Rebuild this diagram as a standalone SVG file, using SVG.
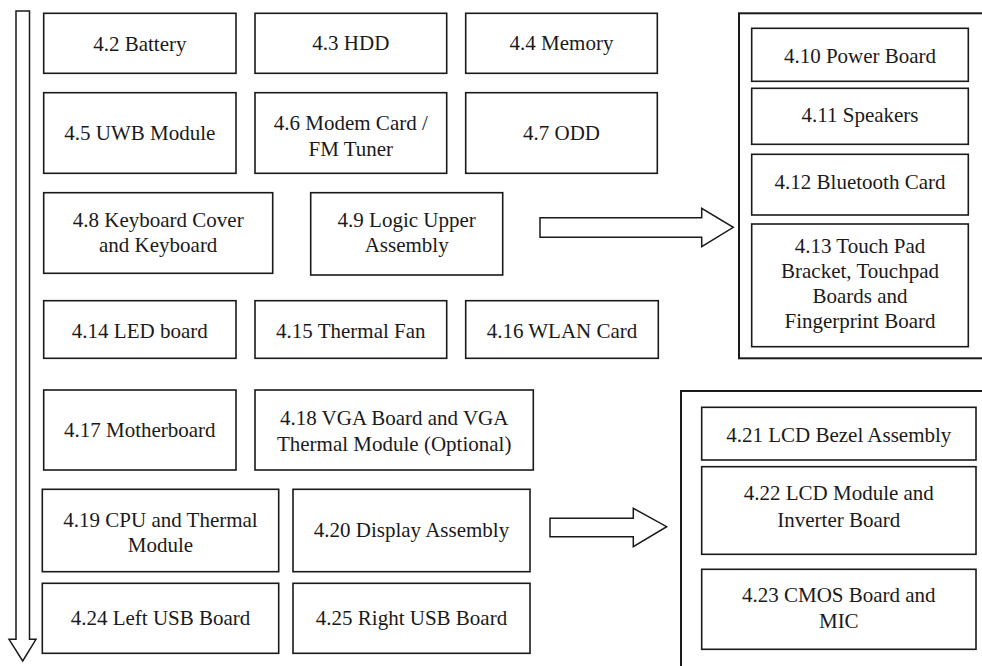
<svg xmlns="http://www.w3.org/2000/svg" width="982" height="666" viewBox="0 0 982 666">
<style>
.b{fill:#fff;stroke:#1a1a1a;stroke-width:1.6}
.o{fill:none;stroke:#1a1a1a;stroke-width:2}
.a{fill:#fff;stroke:#1a1a1a;stroke-width:1.5;stroke-linejoin:miter}
.t text{font-size:21px;fill:#1a1a1a;text-anchor:middle}
</style>
<rect width="982" height="666" fill="#fff"/>
<g id="containers">
<rect id="group-upper" class="o" x="739" y="13.3" width="270" height="345"/>
<rect id="group-display" class="o" x="681" y="391" width="330" height="300"/>
</g>
<g id="connectors">
<path class="a" d="M16,11 H29.5 V639.3 H36 L22.7,661 L9,639.3 H16 Z"/>
<path class="a" d="M540,217.7 H701.7 V208.3 L733.3,227.3 L701.7,246.7 V237.3 H540 Z"/>
<path class="a" d="M550,518.3 H633.3 V508.3 L666.7,526.7 L633.3,546.7 V536.7 H550 Z"/>
</g>
<g class="t" font-family="'Liberation Serif', 'Times New Roman', serif">
<g id="n42"><rect class="b" x="43.7" y="13.3" width="192.3" height="60"/><text x="139.8" y="50.7">4.2 Battery</text></g>
<g id="n43"><rect class="b" x="255" y="13.3" width="191.7" height="60"/><text x="350.8" y="50.3">4.3 HDD</text></g>
<g id="n44"><rect class="b" x="465.7" y="13.3" width="191.6" height="60"/><text x="561.5" y="50.3">4.4 Memory</text></g>
<g id="n45"><rect class="b" x="43.7" y="92.7" width="192.3" height="80.6"/><text x="139.8" y="140">4.5 UWB Module</text></g>
<g id="n46"><rect class="b" x="255" y="92.7" width="191.7" height="80.6"/><text x="350.8" y="130">4.6 Modem Card /</text><text x="350.8" y="155.5">FM Tuner</text></g>
<g id="n47"><rect class="b" x="465.7" y="92.7" width="191.6" height="80.6"/><text x="561.5" y="139.5">4.7 ODD</text></g>
<g id="n48"><rect class="b" x="43.7" y="192.7" width="229" height="80.6"/><text x="158.2" y="226.7">4.8 Keyboard Cover</text><text x="158.2" y="251.7">and Keyboard</text></g>
<g id="n49"><rect class="b" x="310.7" y="192.7" width="192" height="82.3"/><text x="406.7" y="226.7">4.9 Logic Upper</text><text x="406.7" y="251.7">Assembly</text></g>
<g id="n410"><rect class="b" x="751.7" y="28.3" width="216.6" height="53"/><text x="860" y="63.3">4.10 Power Board</text></g>
<g id="n411"><rect class="b" x="751.7" y="88.3" width="216.6" height="56"/><text x="860" y="121.7">4.11 Speakers</text></g>
<g id="n412"><rect class="b" x="751.7" y="154.3" width="216.6" height="60.7"/><text x="860" y="188.5">4.12 Bluetooth Card</text></g>
<g id="n413"><rect class="b" x="751.7" y="224" width="216.6" height="122.7"/><text x="860" y="253.3">4.13 Touch Pad</text><text x="860" y="278.3">Bracket, Touchpad</text><text x="860" y="303.3">Boards and</text><text x="860" y="328.3">Fingerprint Board</text></g>
<g id="n414"><rect class="b" x="43.7" y="300.7" width="192.3" height="57.6"/><text x="139.8" y="337.7">4.14 LED board</text></g>
<g id="n415"><rect class="b" x="255" y="300.7" width="191.7" height="57.6"/><text x="350.8" y="337.7">4.15 Thermal Fan</text></g>
<g id="n416"><rect class="b" x="465.7" y="300.7" width="192.6" height="57.6"/><text x="562" y="337.7">4.16 WLAN Card</text></g>
<g id="n417"><rect class="b" x="43.7" y="390" width="192.3" height="80"/><text x="139.8" y="436.7">4.17 Motherboard</text></g>
<g id="n418"><rect class="b" x="255" y="390" width="278.3" height="80"/><text x="394.2" y="425">4.18 VGA Board and VGA</text><text x="394.2" y="451.3">Thermal Module (Optional)</text></g>
<g id="n419"><rect class="b" x="42.3" y="489.3" width="236.4" height="82.4"/><text x="160.5" y="526.7">4.19 CPU and Thermal</text><text x="160.5" y="551.7">Module</text></g>
<g id="n420"><rect class="b" x="293" y="489.3" width="237" height="82.4"/><text x="411.5" y="536.7">4.20 Display Assembly</text></g>
<g id="n421"><rect class="b" x="701.7" y="407.3" width="274.3" height="52.7"/><text x="838.8" y="441.7">4.21 LCD Bezel Assembly</text></g>
<g id="n422"><rect class="b" x="701.7" y="466.7" width="274.3" height="87.6"/><text x="838.8" y="500">4.22 LCD Module and</text><text x="838.8" y="526.7">Inverter Board</text></g>
<g id="n423"><rect class="b" x="701.7" y="569.3" width="274.3" height="80"/><text x="838.8" y="601.7">4.23 CMOS Board and</text><text x="838.8" y="628.3">MIC</text></g>
<g id="n424"><rect class="b" x="42.3" y="583.3" width="236.4" height="70"/><text x="160.5" y="625">4.24 Left USB Board</text></g>
<g id="n425"><rect class="b" x="293" y="583.3" width="237" height="70"/><text x="411.5" y="625">4.25 Right USB Board</text></g>
</g>
</svg>
